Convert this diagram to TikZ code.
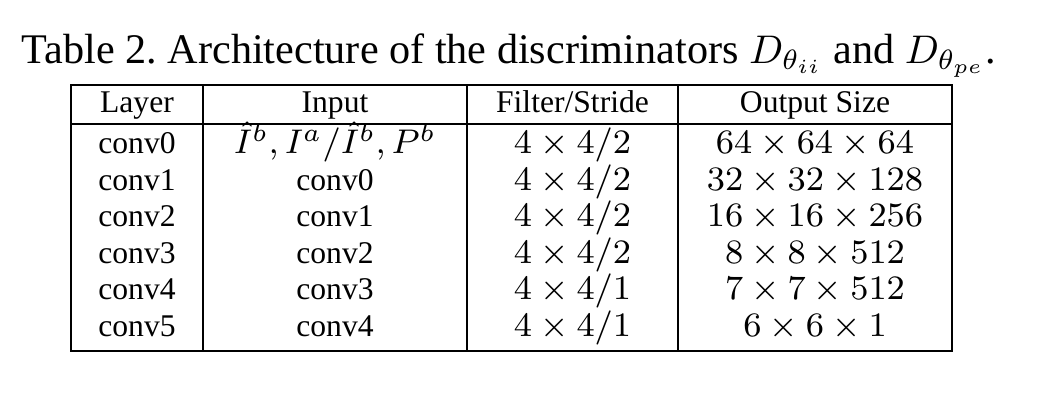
\documentclass[tikz,border=0pt]{standalone}
\usepackage{fontspec}
\setmainfont{Liberation Serif}
\frenchspacing
\newcommand{\tabmath}[1]{\scalebox{1.07}{$#1$}}
\newcommand{\capmath}[1]{{\fontsize{10}{12}\selectfont$#1$}}
\begin{document}
\begin{tikzpicture}[x=0.25pt,y=-0.25pt,
  cell/.style={anchor=base,inner sep=0pt,font=\fontsize{7.9}{9}\selectfont},
  capt/.style={anchor=base,inner sep=0pt,font=\fontsize{10.55}{12}\selectfont},
  rule/.style={line width=0.45pt,black}]
\useasboundingbox (0,0) rectangle (1041,405);
% caption
\node[capt] (cap) at (509,64) {Table 2. Architecture of the discriminators \capmath{D_{\theta_{ii}}} and \capmath{D_{\theta_{pe}}}.};
% frame
\coordinate (tl) at (71,85);
\coordinate (br) at (952,351);
\draw[rule] (tl) rectangle (br);
\coordinate (h1) at (71,124);
\coordinate (h2) at (952,124);
\draw[rule] (h1) -- (h2);
\coordinate (c1t) at (203,85);  \coordinate (c1b) at (203,351);
\coordinate (c2t) at (467,85);  \coordinate (c2b) at (467,351);
\coordinate (c3t) at (678,85);  \coordinate (c3b) at (678,351);
\draw[rule] (c1t) -- (c1b);
\draw[rule] (c2t) -- (c2b);
\draw[rule] (c3t) -- (c3b);
% header
\node[cell] (hl) at (137,113) {Layer};
\node[cell] (hi) at (335,113) {Input};
\node[cell] (hf) at (572.5,113) {Filter/Stride};
\node[cell] (ho) at (815,113) {Output Size};
% rows
\node[cell] (l0) at (137,154) {conv0};
\node[cell] (i0) at (335,154) {\tabmath{\hat{I}^b, I^a/\hat{I}^b, P^b}};
\node[cell] (f0) at (572.5,154) {\tabmath{4\times4/2}};
\node[cell] (o0) at (815,154) {\tabmath{64\times64\times64}};
\node[cell] (l1) at (137,190.5) {conv1};
\node[cell] (i1) at (335,190.5) {conv0};
\node[cell] (f1) at (572.5,190.5) {\tabmath{4\times4/2}};
\node[cell] (o1) at (815,190.5) {\tabmath{32\times32\times128}};
\node[cell] (l2) at (137,227) {conv2};
\node[cell] (i2) at (335,227) {conv1};
\node[cell] (f2) at (572.5,227) {\tabmath{4\times4/2}};
\node[cell] (o2) at (815,227) {\tabmath{16\times16\times256}};
\node[cell] (l3) at (137,263.5) {conv3};
\node[cell] (i3) at (335,263.5) {conv2};
\node[cell] (f3) at (572.5,263.5) {\tabmath{4\times4/2}};
\node[cell] (o3) at (815,263.5) {\tabmath{8\times8\times512}};
\node[cell] (l4) at (137,300) {conv4};
\node[cell] (i4) at (335,300) {conv3};
\node[cell] (f4) at (572.5,300) {\tabmath{4\times4/1}};
\node[cell] (o4) at (815,300) {\tabmath{7\times7\times512}};
\node[cell] (l5) at (137,336.5) {conv5};
\node[cell] (i5) at (335,336.5) {conv4};
\node[cell] (f5) at (572.5,336.5) {\tabmath{4\times4/1}};
\node[cell] (o5) at (815,336.5) {\tabmath{6\times6\times1}};
\end{tikzpicture}
\end{document}
